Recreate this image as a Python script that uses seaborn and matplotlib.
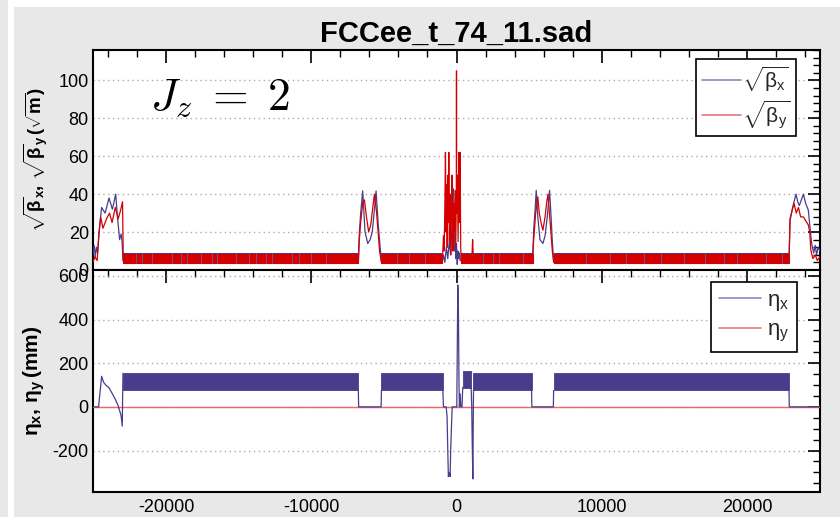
import matplotlib
matplotlib.use("Agg")
import matplotlib.pyplot as plt
import seaborn as sns
from matplotlib.patches import Rectangle
from matplotlib.ticker import MultipleLocator

# ---------------- data ----------------
s_limits = [-25034, 25034]

# arc sections: sqrt(beta) oscillation band (m^0.5)
beta_arc_start = [-22970, -5170, 320, 6690]
beta_arc_end = [-6760, -965, 5240, 22900]
beta_band_low = 3.7
beta_band_high = 8.9

# positions where the sqrt(beta_x) trace shows through the red band
bx_streak_s = [-22070, -21650, -20970, -19590, -18970, -18550, -17590, -16830, -16480,
               -15170, -14280, -13790, -13100, -12690, -11310, -10830, -10000, -8970,
               -4100, -3300, -2200, 1800, 2500, 2950, 4600, 8900, 10600, 11700, 12900,
               14100, 15700, 17100, 18400, 19300, 21300, 22400]
bx_streak_low = 3.6
bx_streak_high = 9.1

# left IR
bx_left_s = [-25034, -24950, -24880, -24800, -24720, -24620, -24440, -24200, -23930, -23700, -23470, -23350, -23200, -23100, -23030, -22970]
bx_left_v = [8, 13, 7, 12, 9, 20, 33, 30, 38, 32, 40, 28, 16, 19, 15, 5]
by_left_s = [-25034, -24900, -24750, -24620, -24510, -24350, -24100, -23900, -23720, -23500, -23300, -23150, -23000, -22950]
by_left_v = [4, 7, 5, 19, 28, 22, 27, 30, 25, 33, 27, 31, 36, 5]

# left straight section
bx_ls_s = [-6760, -6690, -6600, -6460, -6300, -6110, -5950, -5800, -5650, -5540, -5400, -5260, -5170]
bx_ls_v = [5, 20, 30, 41.7, 20, 14, 16, 20, 32, 41.7, 25, 12, 5]
by_ls_s = [-6760, -6700, -6600, -6450, -6340, -6200, -6050, -5900, -5750, -5650, -5500, -5300, -5170]
by_ls_v = [4, 15, 25, 36, 37, 28, 20, 24, 34, 40, 30, 10, 4]

# central IR
bx_c_s = [-965, -900, -800, -700, -600, -500, -400, -300, -250, -200, -150, -100, -50, 0, 50, 100, 150, 200, 250, 320]
bx_c_v = [5, 8, 4, 12, 6, 15, 8, 25, 43, 18, 10, 22, 6, 14, 3, 10, 6, 9, 5, 5]
by_c_s = [-965, -900, -850, -800, -760, -720, -680, -640, -600, -560, -530, -490, -450, -400, -350, -300, -250, -200, -150, -100, -50, -10, 0, 10, 60, 110, 160, 200, 250, 290, 320]
by_c_v = [5, 18, 10, 35, 62, 20, 45, 12, 50, 25, 62, 15, 40, 8, 30, 50, 10, 35, 20, 42, 12, 40, 105, 30, 50, 15, 62, 25, 62, 12, 5]
by_spike_s = [1070, 1110, 1150]
by_spike_v = [8, 16, 8]

# right straight section
bx_rs_s = [5240, 5320, 5400, 5490, 5600, 5750, 5950, 6100, 6250, 6410, 6500, 6600, 6690]
bx_rs_v = [5, 22, 30, 42, 28, 16, 14, 18, 28, 42, 30, 15, 5]
by_rs_s = [5240, 5300, 5450, 5600, 5700, 5850, 5950, 6100, 6200, 6300, 6450, 6600, 6690]
by_rs_v = [4, 14, 30, 38.6, 30, 24, 21, 28, 35, 40, 25, 10, 4]

# right IR
bx_right_s = [22900, 22970, 23150, 23380, 23500, 23610, 23750, 23890, 24050, 24230, 24350, 24460, 24600, 24700, 24800, 24900, 25034]
bx_right_v = [5, 26, 33, 40, 36, 34, 37, 40, 35, 31.6, 22, 14, 9, 13, 8, 12, 10]
by_right_s = [22900, 22970, 23100, 23250, 23400, 23550, 23700, 23890, 24050, 24230, 24330, 24400, 24550, 24700, 24850, 25034]
by_right_v = [4, 27, 31, 35, 30, 33, 28, 28, 26, 23.7, 20, 10.5, 6, 8, 5, 7]

# dispersion (mm)
eta_arc_start = [-22970, -5170, 1170, 6690]
eta_arc_end = [-6760, -940, 5170, 22900]
eta_band_low = 75
eta_band_high = 154
eta_block_start = 430
eta_block_end = 1010
eta_block_low = 87
eta_block_high = 165

ex_left_s = [-25034, -24650, -24440, -24300, -24150, -23930, -23700, -23500, -23300, -23100, -23020, -22970]
ex_left_v = [0, 0, 140, 112, 100, 87, 60, 35, 5, -40, -88, 154]
ex_ls_s = [-6760, -6740, -5190, -5170]
ex_ls_v = [75, 0, 0, 75]
ex_c1_s = [-940, -900, -710, -650, -600, -560, -500, -440, -400, -300, 20, 90, 130, 170, 200, 250, 300, 380, 430]
ex_c1_v = [75, 0, 0, -44, -200, -319, -300, -319, -200, 0, 0, 558, 460, 120, 0, 60, 0, 0, 90]
ex_c2_s = [1010, 1050, 1080, 1126, 1150, 1170]
ex_c2_v = [87, 0, -150, -330, -100, 75]
ex_rs_s = [5170, 5190, 6670, 6690]
ex_rs_v = [75, 0, 0, 75]
ex_right_s = [22900, 22920, 25034]
ex_right_v = [75, 0, 0]

ey_s = [-25034, 25034]
ey_v = [0, 0]

title = "FCCee_t_74_11.sad"

# ---------------- style ----------------
sns.set_theme(style="white")
plt.rcParams["font.family"] = ["Liberation Sans", "DejaVu Sans"]
plt.rcParams["axes.unicode_minus"] = False
plt.rcParams["mathtext.fontset"] = "custom"
plt.rcParams["mathtext.rm"] = "Liberation Sans"
plt.rcParams["mathtext.it"] = "Liberation Sans:italic"
plt.rcParams["mathtext.bf"] = "Liberation Sans:bold"
plt.rcParams["mathtext.sf"] = "Liberation Sans"

BLUE = "#483d8b"
RED = "#d40000"
GRAY = "#e8e8e8"

fig = plt.figure(figsize=(8.4, 5.17), dpi=100)
fig.patch.set_facecolor("white")
fig.patches.append(Rectangle((14 / 840, 0), 1 - 14 / 840, 510 / 517, transform=fig.transFigure,
                             facecolor=GRAY, edgecolor="none", zorder=-10))
fig.patches.append(Rectangle((0, 0), 8 / 840, 1, transform=fig.transFigure,
                             facecolor=GRAY, edgecolor="none", zorder=-10))

ax1 = fig.add_axes([93 / 840, 1 - 270 / 517, 727 / 840, 220 / 517])
ax2 = fig.add_axes([93 / 840, 1 - 492 / 517, 727 / 840, 222 / 517])

for ax in (ax1, ax2):
    ax.set_facecolor("white")
    for sp in ax.spines.values():
        sp.set_color("black")
        sp.set_linewidth(1.5)
        sp.set_visible(True)
    ax.tick_params(which="both", direction="in", top=True, right=True, color="black",
                   labelcolor="black", labelsize=13, pad=3)
    ax.tick_params(which="major", length=9, width=1.2)
    ax.tick_params(which="minor", length=5, width=1.0)
    ax.xaxis.set_major_locator(MultipleLocator(10000))
    ax.xaxis.set_minor_locator(MultipleLocator(2000))
    ax.grid(axis="y", which="major", linestyle=(0, (1, 2.5)), color="#aaaaaa", linewidth=1)
    ax.grid(axis="x", visible=False)
    ax.set_axisbelow(True)
    ax.set_xlim(*s_limits)

# ---------------- top panel ----------------
for a, b in zip(beta_arc_start, beta_arc_end):
    ax1.fill_between([a, b], beta_band_low, beta_band_high, color=BLUE, lw=0, zorder=2)
    ax1.fill_between([a, b], beta_band_low + 0.2, beta_band_high - 0.2, color=RED, lw=0.8, zorder=3)
ax1.vlines(bx_streak_s, bx_streak_low, bx_streak_high, color="#6a5fb0", lw=0.6, zorder=3.5)

line_kw = dict(ax=ax1, sort=False, estimator=None, legend=False, linewidth=0.9)
for xs, ys in [(bx_left_s, bx_left_v), (bx_ls_s, bx_ls_v), (bx_c_s, bx_c_v),
               (bx_rs_s, bx_rs_v), (bx_right_s, bx_right_v)]:
    sns.lineplot(x=xs, y=ys, color=BLUE, zorder=4, **line_kw)
for xs, ys in [(by_left_s, by_left_v), (by_ls_s, by_ls_v), (by_c_s, by_c_v),
               (by_spike_s, by_spike_v), (by_rs_s, by_rs_v), (by_right_s, by_right_v)]:
    sns.lineplot(x=xs, y=ys, color=RED, zorder=5, **line_kw)

ax1.set_ylim(0, 116)
ax1.yaxis.set_major_locator(MultipleLocator(20))
ax1.yaxis.set_minor_locator(MultipleLocator(4))
ax1.tick_params(axis="x", labelbottom=False)
ax1.set_ylabel(r"$\mathbf{\sqrt{\beta}_x,\,\sqrt{\beta}_y\,(\sqrt{m})}$", fontsize=13.5, labelpad=6, color="black")
ax1.set_title(title, fontsize=21, fontweight="bold", pad=6, color="black")
ax1.text(0.078, 0.727, r"$J_z\;=\;2$", transform=ax1.transAxes, fontsize=33,
         math_fontfamily="cm", va="baseline", ha="left", color="black")

h1 = ax1.plot([], [], color="#8c84c8", lw=1.2)[0]
h2 = ax1.plot([], [], color="#e87878", lw=1.2)[0]
leg1 = ax1.legend([h1, h2], [r"$\sqrt{\mathrm{\beta}_\mathrm{x}}$", r"$\sqrt{\mathrm{\beta}_\mathrm{y}}$"],
                  loc="upper right", bbox_to_anchor=(0.967, 0.959), fontsize=15,
                  frameon=True, fancybox=False, framealpha=1, edgecolor="black",
                  handlelength=1.9, borderpad=0.25, labelspacing=0.2, handletextpad=0.05,
                  borderaxespad=0)
leg1.get_frame().set_linewidth(1.2)

# ---------------- bottom panel ----------------
for a, b in zip(eta_arc_start, eta_arc_end):
    ax2.fill_between([a, b], eta_band_low, eta_band_high, color=BLUE, lw=0.6, zorder=2)
ax2.fill_between([eta_block_start, eta_block_end], eta_block_low, eta_block_high, color=BLUE, lw=0.6, zorder=2)

sns.lineplot(x=ey_s, y=ey_v, ax=ax2, color="#ee6666", linewidth=1.0, sort=False, estimator=None,
             legend=False, zorder=3)
for xs, ys in [(ex_left_s, ex_left_v), (ex_ls_s, ex_ls_v), (ex_c1_s, ex_c1_v),
               (ex_c2_s, ex_c2_v), (ex_rs_s, ex_rs_v), (ex_right_s, ex_right_v)]:
    sns.lineplot(x=xs, y=ys, ax=ax2, color=BLUE, linewidth=0.9, sort=False, estimator=None,
                 legend=False, zorder=4)

ax2.set_ylim(-390, 627)
ax2.yaxis.set_major_locator(MultipleLocator(200))
ax2.yaxis.set_minor_locator(MultipleLocator(50))
ax2.tick_params(axis="x", pad=5)
ax2.set_ylabel(r"$\mathbf{\eta_x,\,\eta_y\,(mm)}$", fontsize=15, labelpad=4, color="black")

h3 = ax2.plot([], [], color="#8c84c8", lw=1.2)[0]
h4 = ax2.plot([], [], color="#e87878", lw=1.2)[0]
leg2 = ax2.legend([h3, h4], [r"$\mathrm{\eta_x}$", r"$\mathrm{\eta_y}$"],
                  loc="upper right", bbox_to_anchor=(0.968, 0.946), fontsize=16,
                  frameon=True, fancybox=False, framealpha=1, edgecolor="black",
                  handlelength=1.9, borderpad=0.35, labelspacing=0.3, handletextpad=0.25,
                  borderaxespad=0)
leg2.get_frame().set_linewidth(1.2)

fig.savefig("out.png", dpi=100, facecolor=fig.get_facecolor())
